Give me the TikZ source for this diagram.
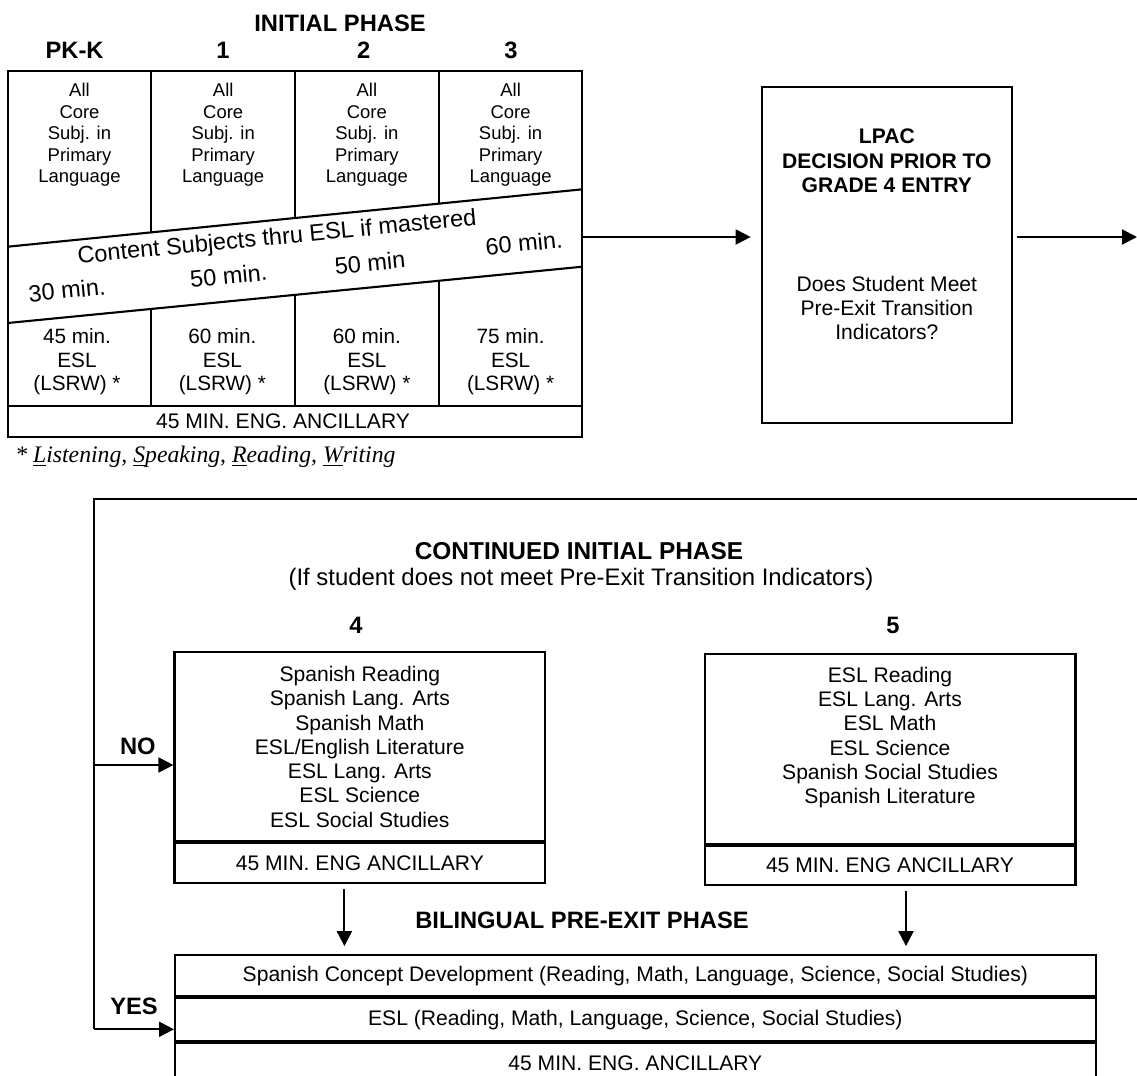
\documentclass[tikz,border=0pt]{standalone}
\usepackage{fontspec}
\setmainfont{Liberation Sans}
\newfontfamily\notefont{Liberation Serif}
\usetikzlibrary{calc,positioning,arrows.meta}
\tikzset{
	edgeline/.style={line width=1.2pt},
	cell/.style={draw, line width=1.2pt, inner sep=0pt, font=\fontsize{12}{13.8}\selectfont},
	arr/.style={line width=1.2pt, -{Triangle[length=8.5pt,width=8.5pt]}},
	hdr/.style={inner sep=0pt, font=\bfseries\fontsize{13.5}{16}\selectfont},
	txt/.style={align=center, inner sep=0pt, font=\fontsize{12}{13.8}\selectfont},
}

\begin{document}
\begin{tikzpicture}[x=0.02cm, y=-0.02cm]
		%%%%% START %%%%%
		\clip (0,0) rectangle (1137,1076);
		
		% initial phase table
		\coordinate (tblTL) at (7.7,70.7);
		\coordinate (tblTR) at (582.4,70.7);
		\coordinate (bandUL) at (7.7,246.7);
		\coordinate (bandUR) at (582.4,189.3);
		\coordinate (bandLL) at (7.7,323);
		\coordinate (bandLR) at (582.4,266.7);
		\coordinate (ancL) at (7.7,406);
		\coordinate (ancR) at (582.4,406);
		\draw[edgeline] (tblTL) rectangle (582.4,437);
		\draw[edgeline] (bandUL) -- (bandUR);
		\draw[edgeline] (bandLL) -- (bandLR);
		\draw[edgeline] (ancL) -- (ancR);
		\foreach \t in {0.25,0.5,0.75}{
			\draw[edgeline] ($(tblTL)!\t!(tblTR)$) -- ($(bandUL)!\t!(bandUR)$);
			\draw[edgeline] ($(bandLL)!\t!(bandLR)$) -- ($(ancL)!\t!(ancR)$);
		}
		
		\node[hdr] (phase) at (340,23.3) {INITIAL PHASE};
		\foreach \x/\g [count=\i] in {74.6/PK-K, 223/1, 363.6/2, 510.9/3}
			\node[hdr] (grade\i) at (\x,50) {\g};
		\foreach \x [count=\i] in {79.5,223.2,366.9,510.6}
			\node[txt, font=\fontsize{10.5}{12.2}\selectfont] (core\i) at (\x,135) {All\\Core\\Subj. in\\Primary\\Language};
		\foreach \x/\m [count=\i] in {77/45,222.4/60,366.9/60,510.6/75}
			\node[txt, font=\fontsize{11.8}{13.6}\selectfont] (esl\i) at (\x,361.7) {\m{} min.\\ESL\\(LSRW) *};
		
		\node[txt, font=\fontsize{13.4}{16}\selectfont, rotate=5.5] (content) at (277,238.5) {Content Subjects thru ESL if mastered};
		\foreach \x/\y/\m [count=\i] in {67/290/30 min., 228.6/275.5/50 min., 370/262.5/50 min, 524/243/60 min.}
			\node[txt, font=\fontsize{13.4}{16}\selectfont, rotate=5.5] (band\i) at (\x,\y) {\m};
		
		\node[txt] (anc) at (283,421.5) {45 MIN. ENG. ANCILLARY};
		\node[anchor=west, inner sep=0pt, font=\notefont\itshape\fontsize{13.5}{16}\selectfont] (note) at (15,457)
			{* \underline{L}istening, \underline{S}peaking, \underline{R}eading, \underline{W}riting};
		
		% LPAC decision
		\node[cell, minimum width=5.006cm, minimum height=6.732cm] (lpac) at (886.85,255) {};
		\node[txt, anchor=north, font=\bfseries\fontsize{12}{14.2}\selectfont] (lpacTitle) at ($(lpac.north)+(0,42.3)$) {LPAC\\DECISION PRIOR TO\\GRADE 4 ENTRY};
		\node[txt, anchor=north] (lpacQ) at ($(lpac.north)+(0,190)$) {Does Student Meet\\Pre-Exit Transition\\Indicators?};
		
		\coordinate (tblR) at (582.4,237);
		\coordinate (outR) at (1137,237);
		\draw[arr, shorten >=5.7pt] (tblR) -- (tblR -| lpac.west);
		\draw[arr, shorten <=2pt] (lpac.east |- outR) -- (outR);
		
		% continued initial phase
		\node[hdr, font=\bfseries\fontsize{13.9}{16}\selectfont] (cont) at (579,551.5) {CONTINUED INITIAL PHASE};
		\node[txt, font=\fontsize{13.6}{16}\selectfont] (contSub) at (581,579) {(If student does not meet Pre-Exit Transition Indicators)};
		\node[hdr] (grade4) at (356,625) {4};
		\node[hdr] (grade5) at (893,625) {5};
		
		\node[cell, anchor=north west, minimum width=7.416cm, minimum height=3.786cm] (box4) at (173.4,650.7) {};
		\node[cell, anchor=north, minimum width=7.416cm, minimum height=0.8cm] (anc4) at (box4.south) {45 MIN. ENG ANCILLARY};
		\node[txt, anchor=north] (list4) at ($(box4.north)+(0,15.3)$) {Spanish Reading\\Spanish Lang. Arts\\Spanish Math\\ESL/English Literature\\ESL Lang. Arts\\ESL Science\\ESL Social Studies};
		
		\node[cell, anchor=north west, minimum width=7.42cm, minimum height=3.8cm] (box5) at (703.5,652.7) {};
		\node[cell, anchor=north, minimum width=7.42cm, minimum height=0.78cm] (anc5) at (box5.south) {45 MIN. ENG ANCILLARY};
		\node[txt, anchor=north] (list5) at ($(box5.north)+(0,14)$) {ESL Reading\\ESL Lang. Arts\\ESL Math\\ESL Science\\Spanish Social Studies\\Spanish Literature};
		
		% pre-exit phase
		\node[hdr] (bil) at (582,920.7) {BILINGUAL PRE-EXIT PHASE};
		\node[cell, anchor=north west, minimum width=18.416cm, minimum height=0.82cm] (pre1) at (174,954) {Spanish Concept Development (Reading, Math, Language, Science, Social Studies)};
		\node[cell, anchor=north, minimum width=18.416cm, minimum height=0.86cm] (pre2) at (pre1.south) {ESL (Reading, Math, Language, Science, Social Studies)};
		\node[cell, anchor=north, minimum width=18.416cm, minimum height=0.8cm] (pre3) at (pre2.south) {45 MIN. ENG. ANCILLARY};
		
		\coordinate (dn4) at (344.4,0);
		\coordinate (dn5) at (906,0);
		\draw[arr, shorten <=2.8pt, shorten >=4.5pt] (anc4.south -| dn4) -- (pre1.north -| dn4);
		\draw[arr, shorten <=2.8pt, shorten >=4.5pt] (anc5.south -| dn5) -- (pre1.north -| dn5);
		
		% decision branches
		\coordinate (frTR) at (1137,499);
		\coordinate (frTL) at (94,499);
		\coordinate (noJoin) at (94,765);
		\coordinate (yesJoin) at (94,1029.3);
		\draw[edgeline] (frTR) -- (frTL) -- (yesJoin);
		\draw[arr] (noJoin) -- (noJoin -| box4.west);
		\draw[arr] (yesJoin) -- (yesJoin -| pre2.west);
		\node[hdr] (no) at (137.8,746) {NO};
		\node[hdr] (yes) at (134,1006.7) {YES};
		%%%%% END %%%%%
	\end{tikzpicture}
\end{document}
